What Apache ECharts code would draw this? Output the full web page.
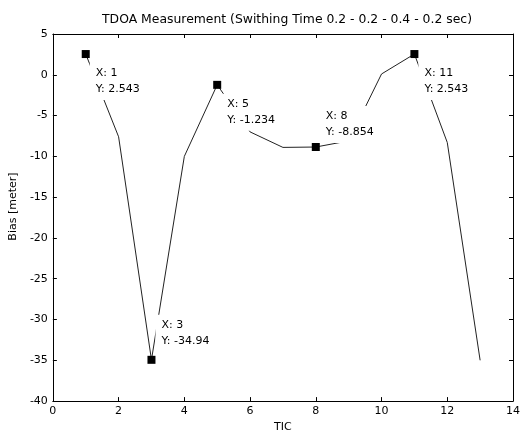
<!DOCTYPE html>
<html>
<head>
<meta charset="utf-8">
<script src="https://cdn.jsdelivr.net/npm/echarts@6/dist/echarts.min.js"></script>
<style>
  html, body { margin: 0; padding: 0; background: #fff; }
  #chart { width: 523px; height: 438px; }
</style>
</head>
<body>
<div id="chart"></div>
<script>
// 数据
const tic = [1, 2, 3, 4, 5, 6, 7, 8, 9, 10, 11, 12, 13];
const bias = [2.543, -7.6, -34.94, -10.0, -1.234, -7.0, -8.9, -8.854, -8.1, 0.1, 2.543, -8.3, -35.0];
// 数据提示点（索引）及其标签文字
const tipIndex = [0, 2, 4, 7, 10];
const tipText = ['X: 1\nY: 2.543', 'X: 3\nY: -34.94', 'X: 5\nY: -1.234', 'X: 8\nY: -8.854', 'X: 11\nY: 2.543'];

// 标签相对方块的位置（下方 / 上方）
const tipPos = [[8, 13], [8, -41], [8, 13], [8, -37], [8, 13]];

const font = 'DejaVu Sans';

let chart = echarts.init(document.getElementById('chart'));

let seriesData = tic.map((x, i) => {
  let k = tipIndex.indexOf(i);
  if (k < 0) return { value: [x, bias[i]], symbol: 'none' };
  return {
    value: [x, bias[i]],
    label: {
      show: true,
      formatter: tipText[k],
      position: tipPos[k],
      align: 'left',
      verticalAlign: 'top',
      backgroundColor: '#fff',
      padding: [2, 4, 3, 6],
      fontFamily: font,
      fontSize: 11,
      lineHeight: 16,
      color: '#000'
    }
  };
});

const tickStyle = { inside: true, length: 4, lineStyle: { color: '#000' } };
const lineStyle = { onZero: false, lineStyle: { color: '#000', width: 1 } };

chart.setOption({
  animation: false,
  backgroundColor: '#fff',
  title: {
    text: 'TDOA Measurement (Swithing Time 0.2 - 0.2 - 0.4 - 0.2 sec)',
    left: 282, top: 9, textAlign: 'center',
    textStyle: { fontFamily: font, fontSize: 12.4, fontWeight: 'normal', color: '#000' }
  },
  grid: { left: 49, right: 10, top: 34, bottom: 36 },
  xAxis: [{
    type: 'value', min: 0, max: 14, interval: 2,
    name: 'TIC', nameLocation: 'middle', nameGap: 17,
    nameTextStyle: { fontFamily: font, fontSize: 11, color: '#000' },
    axisLine: lineStyle, axisTick: tickStyle,
    axisLabel: { fontFamily: font, fontSize: 11, color: '#000', margin: 5 },
    splitLine: { show: false }
  }, {
    type: 'value', min: 0, max: 14, interval: 2, position: 'top',
    axisLine: lineStyle, axisTick: tickStyle,
    axisLabel: { show: false }, splitLine: { show: false }
  }],
  yAxis: [{
    type: 'value', min: -40, max: 5, interval: 5,
    name: 'Bias [meter]', nameLocation: 'middle', nameGap: 32,
    nameTextStyle: { fontFamily: font, fontSize: 11, color: '#000', padding: [0, 0, 0, 22] },
    axisLine: lineStyle, axisTick: tickStyle,
    axisLabel: { fontFamily: font, fontSize: 11, color: '#000', margin: 5 },
    splitLine: { show: false }
  }, {
    type: 'value', min: -40, max: 5, interval: 5, position: 'right',
    axisLine: lineStyle, axisTick: tickStyle,
    axisLabel: { show: false }, splitLine: { show: false }
  }],
  series: [{
    type: 'line',
    data: seriesData,
    symbol: 'rect',
    symbolSize: 8,
    showSymbol: true,
    showAllSymbol: true,
    itemStyle: { color: '#000' },
    lineStyle: { color: '#222', width: 1 },
    labelLayout: { hideOverlap: false },
    z: 2
  }]
});
</script>
</body>
</html>
